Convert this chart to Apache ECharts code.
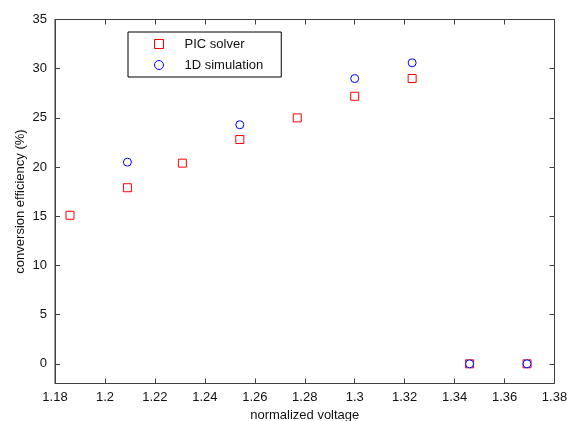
<!DOCTYPE html>
<html>
<head>
<meta charset="utf-8">
<script src="https://cdn.jsdelivr.net/npm/echarts@6/dist/echarts.min.js"></script>
<style>
html,body{margin:0;padding:0;background:#fff;}
#chart{width:567px;height:421px;}
</style>
</head>
<body>
<div id="chart"></div>
<script>
// Data
const picVoltage = [1.186, 1.209, 1.231, 1.254, 1.277, 1.300, 1.323, 1.346, 1.369];
const picEfficiency = [15.1, 17.9, 20.4, 22.8, 25.0, 27.2, 29.0, 0, 0];
const simVoltage = [1.209, 1.254, 1.300, 1.323, 1.346, 1.369];
const simEfficiency = [20.5, 24.3, 29.0, 30.6, 0, 0];
const xTicks = [1.18, 1.2, 1.22, 1.24, 1.26, 1.28, 1.3, 1.32, 1.34, 1.36, 1.38];
const yTicks = [0, 5, 10, 15, 20, 25, 30, 35];
const seriesNames = ['PIC solver', '1D simulation'];
const xName = 'normalized voltage';
const yName = 'conversion efficiency (%)';

const FONT = 'Liberation Sans, Arial, Helvetica, sans-serif';
const axisColor = '#404040';
const textColor = '#111';

function pairs(xs, ys) { return xs.map((x, i) => [x, ys[i]]); }

const tickStyle = { show: true, inside: true, length: 5, lineStyle: { color: axisColor, width: 1 } };

const chart = echarts.init(document.getElementById('chart'), null, { renderer: 'canvas' });
chart.setOption({
  animation: false,
  backgroundColor: '#fff',
  grid: { left: 55, top: 19.5, right: 12.5, bottom: 37.5, outerBoundsMode: 'none', containLabel: false, show: true, borderColor: axisColor, borderWidth: 1, backgroundColor: 'transparent' },
  legend: {
    left: 128, top: 32,
    orient: 'vertical',
    data: seriesNames,
    itemWidth: 9, itemHeight: 9, itemGap: 7,
    padding: [5, 18, 5, 26],
    borderColor: '#000', borderWidth: 1,
    backgroundColor: '#fff',
    itemStyle: { borderWidth: 1 },
    textStyle: { fontFamily: FONT, fontSize: 13, color: textColor, lineHeight: 14, padding: [0, 0, 0, 16] }
  },
  xAxis: [{
    type: 'value', min: 1.18, max: 1.38, position: 'bottom',
    name: xName, nameLocation: 'middle', nameGap: 25, nameMoveOverlap: false,
    nameTextStyle: { fontFamily: FONT, fontSize: 13, color: textColor },
    axisLine: { show: true, onZero: false, lineStyle: { color: axisColor } },
    axisTick: Object.assign({ customValues: xTicks }, tickStyle),
    axisLabel: { customValues: xTicks, fontFamily: FONT, fontSize: 13, color: textColor, margin: 7, showMinLabel: true, showMaxLabel: true },
    splitLine: { show: false }
  }, {
    type: 'value', min: 1.18, max: 1.38, position: 'top',
    axisLine: { show: true, onZero: false, lineStyle: { color: axisColor } },
    axisTick: Object.assign({ customValues: xTicks }, tickStyle),
    axisLabel: { show: false },
    splitLine: { show: false }
  }],
  yAxis: [{
    type: 'value', min: -2, max: 35, position: 'left',
    name: yName, nameLocation: 'middle', nameGap: 28, nameRotate: 90, nameMoveOverlap: false,
    nameTextStyle: { fontFamily: FONT, fontSize: 13, color: textColor },
    axisLine: { show: true, onZero: false, lineStyle: { color: axisColor } },
    axisTick: Object.assign({ customValues: yTicks }, tickStyle),
    axisLabel: { customValues: yTicks, fontFamily: FONT, fontSize: 13, color: textColor, margin: 8 },
    splitLine: { show: false }
  }, {
    type: 'value', min: -2, max: 35, position: 'right',
    axisLine: { show: true, onZero: false, lineStyle: { color: axisColor } },
    axisTick: Object.assign({ customValues: yTicks }, tickStyle),
    axisLabel: { show: false },
    splitLine: { show: false }
  }],
  series: [{
    name: seriesNames[0], type: 'scatter',
    xAxisIndex: 0, yAxisIndex: 0,
    symbol: 'rect', symbolSize: 8,
    itemStyle: { color: '#fff', borderColor: '#ff0000', borderWidth: 1, opacity: 1 },
    data: pairs(picVoltage, picEfficiency)
  }, {
    name: seriesNames[1], type: 'scatter',
    xAxisIndex: 0, yAxisIndex: 0,
    symbol: 'circle', symbolSize: 8,
    itemStyle: { color: '#fff', borderColor: '#0000ff', borderWidth: 1, opacity: 1 },
    data: pairs(simVoltage, simEfficiency)
  }]
});
</script>
</body>
</html>
